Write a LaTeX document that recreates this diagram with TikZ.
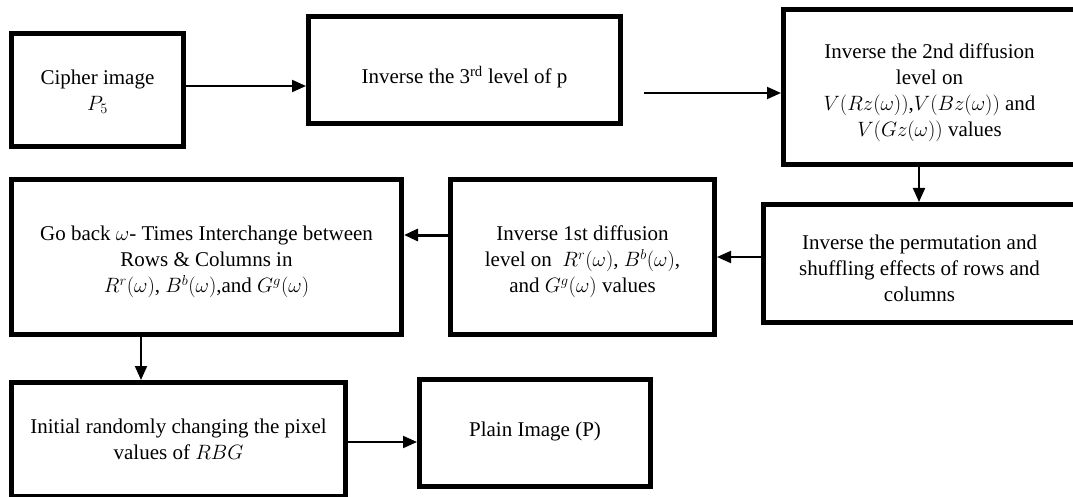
\documentclass[tikz,border=0pt]{standalone}
\usepackage{fontspec}
\setmainfont{Liberation Serif}
\usetikzlibrary{arrows.meta}
\begin{document}
\begin{tikzpicture}[x=1pt,y=-1pt,
  stepbox/.style={draw,line width=5pt,inner sep=0pt},
  boxtext/.style={align=center,inner sep=0pt,font=\fontsize{21}{26}\selectfont},
  flow/.style={line width=2pt,-{Triangle[length=14pt,width=12pt]}},
  flowthick/.style={line width=3pt,-{Triangle[length=14pt,width=12pt]}}]
\useasboundingbox (0,0) rectangle (1073,497);
\node[stepbox,minimum width=172pt,minimum height=113pt] (b1) at (97.5,90) {};
\node[stepbox,minimum width=312pt,minimum height=107pt] (b2) at (464.5,70) {};
\node[stepbox,minimum width=292pt,minimum height=155pt] (b3) at (929.5,87) {};
\node[stepbox,minimum width=312pt,minimum height=118pt] (b4) at (919.5,263.5) {};
\node[stepbox,minimum width=264pt,minimum height=155pt] (b5) at (582.5,257) {};
\node[stepbox,minimum width=390pt,minimum height=155pt] (b6) at (206.5,257) {};
\node[stepbox,minimum width=334pt,minimum height=114pt] (b7) at (178.5,439.5) {};
\node[stepbox,minimum width=231pt,minimum height=107pt] (b8) at (535,433) {};
\node[boxtext] (t1) at ([yshift=-2pt]b1.center) {Cipher image\\$P_5$};
\node[boxtext] (t2) at ([yshift=-7pt]b2.center) {Inverse the 3\textsuperscript{rd} level of p};
\node[boxtext] (t3) at ([yshift=-6pt]b3.center) {Inverse the 2nd diffusion\\level on\\$V(Rz(\omega))$,$V(Bz(\omega))$ and\\$V(Gz(\omega))$ values};
\node[boxtext] (t4) at ([yshift=-5pt]b4.center) {Inverse the permutation and\\shuffling effects of rows and\\columns};
\node[boxtext] (t5) at ([yshift=-5pt]b5.center) {Inverse 1st diffusion\\level on\ \ $R^r(\omega)$, $B^b(\omega)$,\\and $G^g(\omega)$ values};
\node[boxtext] (t6) at ([yshift=-5pt]b6.center) {Go back $\omega$- Times Interchange between\\Rows \& Columns in\\$R^r(\omega)$, $B^b(\omega)$,and $G^g(\omega)$};
\node[boxtext] (t7) at (b7.center) {Initial randomly changing the pixel\\values of $RBG$};
\node[boxtext] (t8) at ([yshift=2pt]b8.center) {Plain Image (P)};
\coordinate (a1) at (0,86);
\coordinate (a2s) at (644,93);
\coordinate (a3) at (919,0);
\coordinate (a4) at (0,257);
\coordinate (a5) at (0,235);
\coordinate (a6) at (141,0);
\coordinate (a7) at (0,442);
\draw[flow] (b1.east |- a1) -- (b2.west |- a1);
\draw[flow] (a2s) -- (b3.west |- a2s);
\draw[flow] (b3.south -| a3) -- (b4.north -| a3);
\draw[flow] (b4.west |- a4) -- (b5.east |- a4);
\draw[flowthick] (b5.west |- a5) -- (b6.east |- a5);
\draw[flow] (b6.south -| a6) -- (b7.north -| a6);
\draw[flow] (b7.east |- a7) -- (b8.west |- a7);
\end{tikzpicture}
\end{document}
